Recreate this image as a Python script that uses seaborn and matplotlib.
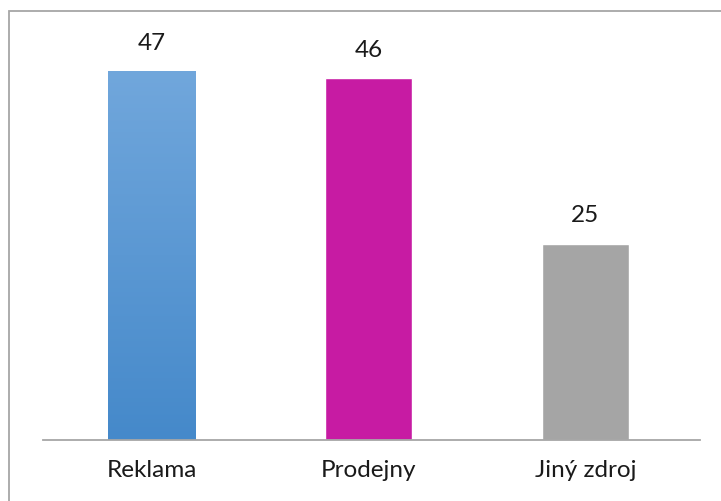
import numpy as np
import pandas as pd
import matplotlib
matplotlib.use("Agg")
import matplotlib.pyplot as plt
import seaborn as sns
from matplotlib.colors import LinearSegmentedColormap
from matplotlib.patches import Rectangle

categories = ["Reklama", "Prodejny", "Jiný zdroj"]
values = [47, 46, 25]
colors = ["#5b9bd5", "#c71ba3", "#a5a5a5"]

sns.set_theme(style="white")
plt.rcParams["font.family"] = ["Lato", "DejaVu Sans"]

df = pd.DataFrame({"zdroj": categories, "pocet": values})

fig = plt.figure(figsize=(7.21, 5.02), dpi=100)
ax = fig.add_axes([43 / 721, (502 - 441) / 502, 651 / 721, (441 - 48) / 502])

sns.barplot(data=df, x="zdroj", y="pocet", hue="zdroj", palette=colors,
            width=0.405, legend=False, ax=ax, saturation=1)

# vertical blue gradient on the first bar
blue = ax.patches[0]
bx, by = blue.get_x(), blue.get_y()
bw, bh = blue.get_width(), blue.get_height()
cmap = LinearSegmentedColormap.from_list("modra", ["#4589ca", "#71a7dc"])
grad = np.linspace(0, 1, 256).reshape(-1, 1)
im = ax.imshow(grad, cmap=cmap, aspect="auto", origin="lower",
               extent=[bx, bx + bw, by, by + bh], zorder=blue.get_zorder() + 0.1)
im.set_clip_path(blue)

ax.set_ylim(0, 50)
ax.set_xlim(-0.5, 2.5)
ax.set_xlabel("")
ax.set_ylabel("")
ax.set_yticks([])
for s in ["top", "left", "right"]:
    ax.spines[s].set_visible(False)
ax.spines["bottom"].set_color("#a6a6a6")
ax.spines["bottom"].set_linewidth(1.3)
ax.spines["bottom"].set_bounds(-0.5, 2.5 + 6 / 217)
ax.tick_params(axis="x", length=0, pad=14, labelsize=17.5, labelcolor="#1a1a1a")

for p, v in zip(ax.patches, values):
    ax.annotate(str(v), (p.get_x() + p.get_width() / 2, v), xytext=(0, 13),
                textcoords="offset points", ha="center", va="bottom",
                fontsize=17.5, color="#1a1a1a")

# chart frame
fig.patches.append(Rectangle((9 / 721, -0.05), 1.0, (502 - 12) / 502 + 0.05,
                             transform=fig.transFigure, fill=False,
                             edgecolor="#a6a6a6", linewidth=1.3))

fig.savefig("out.png", dpi=100)
